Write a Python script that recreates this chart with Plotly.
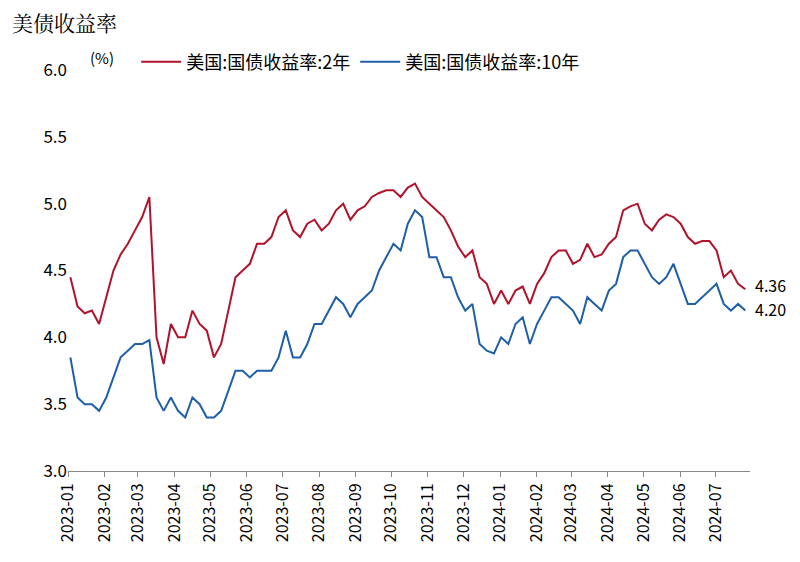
import pandas as pd
import plotly.graph_objects as go

y2 = [4.45,4.23,4.18,4.20,4.10, 4.30,4.50,4.62,4.70,4.80, 4.90,5.05,4.00,3.80,4.10,
      4.00,4.00,4.20,4.10,4.05, 3.85,3.95,4.20,4.45,4.50, 4.55,4.70,4.70,4.75,4.90,
      4.95,4.80,4.75,4.85,4.88, 4.80,4.85,4.95,5.00,4.88, 4.95,4.98,5.05,5.08,5.10,
      5.10,5.05,5.12,5.15,5.05, 5.00,4.95,4.90,4.80,4.68, 4.60,4.65,4.45,4.40,4.25,
      4.35,4.25,4.35,4.38,4.25, 4.40,4.48,4.60,4.65,4.65, 4.55,4.58,4.70,4.60,4.62,
      4.70,4.75,4.95,4.98,5.00, 4.85,4.80,4.88,4.92,4.90, 4.85,4.75,4.70,4.72,4.72,
      4.65,4.45,4.50,4.40,4.36]
y10 = [3.85,3.55,3.50,3.50,3.45, 3.55,3.70,3.85,3.90,3.95, 3.95,3.98,3.55,3.45,3.55,
       3.45,3.40,3.55,3.50,3.40, 3.40,3.45,3.60,3.75,3.75, 3.70,3.75,3.75,3.75,3.85,
       4.05,3.85,3.85,3.95,4.10, 4.10,4.20,4.30,4.25,4.15, 4.25,4.30,4.35,4.50,4.60,
       4.70,4.65,4.85,4.95,4.90, 4.60,4.60,4.45,4.45,4.30, 4.20,4.25,3.95,3.90,3.88,
       4.00,3.95,4.10,4.15,3.95, 4.10,4.20,4.30,4.30,4.25, 4.20,4.10,4.30,4.25,4.20,
       4.35,4.40,4.60,4.65,4.65, 4.55,4.45,4.40,4.45,4.55, 4.40,4.25,4.25,4.30,4.35,
       4.40,4.25,4.20,4.25,4.20]
dates = pd.date_range("2023-01-03", "2024-07-26", periods=len(y2))
ticks = pd.date_range("2023-01-01", "2024-07-01", freq="MS")
tick_labels = [d.strftime("%Y-%m") for d in ticks]
red, blue = "#B0132B", "#1F5FA8"
font = "Noto Sans CJK SC"

fig = go.Figure()
fig.add_trace(go.Scatter(x=dates, y=y2, mode="lines", line=dict(color=red, width=2), name="美国:国债收益率:2年"))
fig.add_trace(go.Scatter(x=dates, y=y10, mode="lines", line=dict(color=blue, width=2), name="美国:国债收益率:10年"))
fig.add_annotation(x=dates[-1], y=y2[-1], text=f"{y2[-1]:.2f}", showarrow=False, xanchor="left", xshift=8, yshift=4, font=dict(size=16, color="black"))
fig.add_annotation(x=dates[-1], y=y10[-1], text=f"{y10[-1]:.2f}", showarrow=False, xanchor="left", xshift=8, yshift=2, font=dict(size=16, color="black"))
fig.add_annotation(xref="paper", yref="paper", x=0.03, y=1.03, text="(%)", showarrow=False, xanchor="left", yanchor="middle", font=dict(size=15, color="black"))
fig.update_layout(
    width=800, height=562, plot_bgcolor="white", paper_bgcolor="white",
    margin=dict(l=60, r=58, t=62, b=99, autoexpand=False),
    font=dict(family=font, size=16, color="black"),
    title=dict(text="美债收益率", x=0.005, y=0.985, xanchor="left", yanchor="top", font=dict(size=21, family="Noto Serif CJK SC, Noto Sans CJK SC")),
    legend=dict(orientation="h", x=0.1, y=1.02, xanchor="left", yanchor="middle", font=dict(size=18), itemwidth=40, bgcolor="rgba(0,0,0,0)"),
    showlegend=True,
)
fig.update_xaxes(range=["2023-01-01", "2024-07-30"], tickvals=ticks, ticktext=tick_labels, tickangle=-90,
                 showgrid=False, showline=True, linecolor="#888", ticks="outside", ticklen=5, tickcolor="#888", tickfont=dict(size=16))
fig.update_yaxes(range=[3.0, 6.0], dtick=0.5, tickformat=".1f", showgrid=False, zeroline=False, showline=False, tickfont=dict(size=17))
fig.write_html("out.html")
